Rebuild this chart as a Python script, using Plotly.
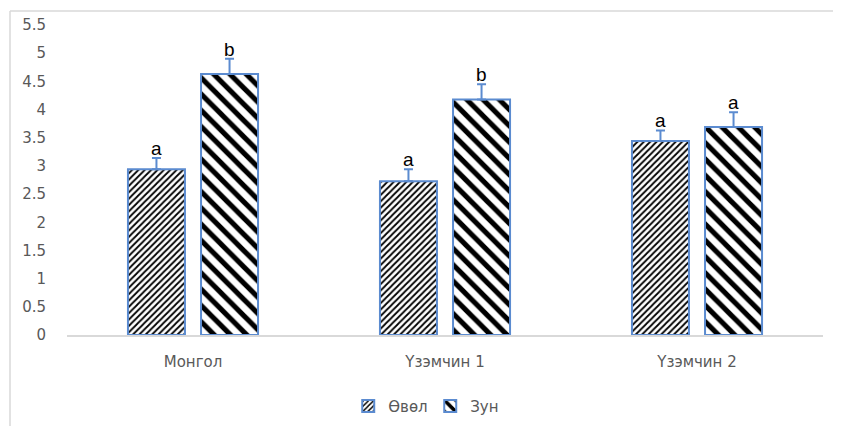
import plotly.graph_objects as go

categories = ["Монгол", "Үзэмчин 1", "Үзэмчин 2"]
series_names = ["Өвөл", "Зун"]
winter_values = [2.94, 2.73, 3.44]
winter_errors = [0.20, 0.21, 0.19]
summer_values = [4.63, 4.18, 3.69]
summer_errors = [0.27, 0.27, 0.26]
winter_letters = ["a", "a", "a"]
summer_letters = ["b", "b", "a"]
y_ticks = [0, 0.5, 1, 1.5, 2, 2.5, 3, 3.5, 4, 4.5, 5, 5.5]

BLUE = "#5B8BD0"
FONT = "DejaVu Sans"

fig = go.Figure()
fig.add_trace(go.Bar(
    name=series_names[0], x=categories, y=winter_values,
    marker=dict(color="white", line=dict(color=BLUE, width=2),
                pattern=dict(shape="/", size=4.5, solidity=0.4, fgopacity=1,
                             fgcolor="black", bgcolor="white", fillmode="overlay")),
    error_y=dict(type="data", array=winter_errors, symmetric=False,
                 arrayminus=[0, 0, 0], color=BLUE, thickness=2, width=4.5),
))
fig.add_trace(go.Bar(
    name=series_names[1], x=categories, y=summer_values,
    marker=dict(color="white", line=dict(color=BLUE, width=2),
                pattern=dict(shape="\\", size=11.5, solidity=0.45, fgopacity=1,
                             fgcolor="black", bgcolor="white", fillmode="overlay")),
    error_y=dict(type="data", array=summer_errors, symmetric=False,
                 arrayminus=[0, 0, 0], color=BLUE, thickness=2, width=4.5),
))

annotations = []
for i, c in enumerate(categories):
    for vals, errs, letters, shift in ((winter_values, winter_errors, winter_letters, -36.5),
                                      (summer_values, summer_errors, summer_letters, 36.5)):
        annotations.append(dict(
            x=c, y=vals[i] + errs[i], xref="x", yref="y",
            text=letters[i], showarrow=False, xshift=shift, yanchor="bottom", yshift=-3,
            font=dict(family="Liberation Sans", size=19, color="black"),
        ))

shapes = [
    dict(type="line", xref="paper", yref="paper", x0=-0.0754, x1=1.04, y0=1.045, y1=1.045,
         line=dict(color="#d9d9d9", width=1.5)),
    dict(type="line", xref="paper", yref="paper", x0=-0.0754, x1=-0.0754, y0=1.045, y1=-0.32,
         line=dict(color="#d9d9d9", width=1.5)),
]

# page body has an 8px margin, so margins are offset to place the plot area
fig.update_layout(
    width=841, height=426,
    margin=dict(l=59, r=26, t=17, b=99, autoexpand=False),
    paper_bgcolor="white", plot_bgcolor="white",
    barmode="group", bargap=0.42, bargroupgap=0.22,
    font=dict(family=FONT, size=15, color="#595959"),
    showlegend=True,
    legend=dict(orientation="h", x=0.372, xanchor="left", y=-0.23, yanchor="middle",
                font=dict(family=FONT, size=15, color="#595959"),
                itemwidth=30, traceorder="normal", entrywidth=37),
    annotations=annotations,
    shapes=shapes,
)
fig.update_xaxes(showline=True, linecolor="#d9d9d9", linewidth=1.5, ticks="",
                 ticklabelstandoff=12, showgrid=False, tickfont=dict(size=15))
fig.update_yaxes(range=[0, 5.5], tickvals=y_ticks, ticktext=[f"{t:g}" for t in y_ticks],
                 showgrid=False, zeroline=False, showline=False, ticks="",
                 ticklabelstandoff=20, tickfont=dict(size=15))

fig.write_html("out.html")
